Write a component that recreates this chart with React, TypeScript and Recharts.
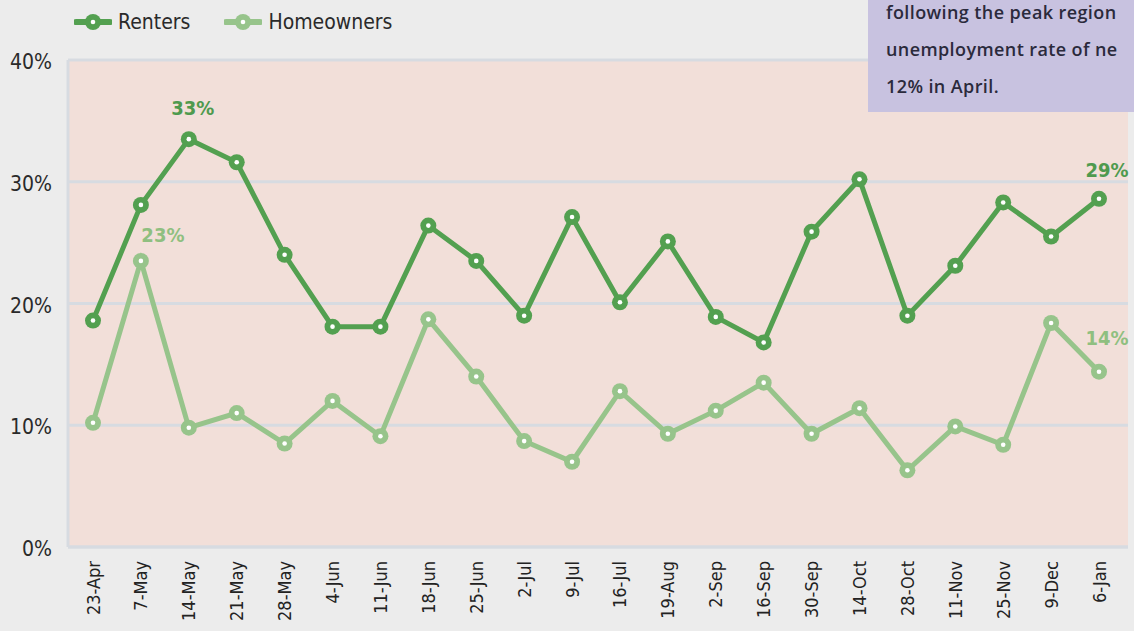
import React from "react";
import { LineChart, Line, XAxis, YAxis, CartesianGrid, LabelList } from "recharts";

const categories = ["23-Apr","7-May","14-May","21-May","28-May","4-Jun","11-Jun","18-Jun","25-Jun","2-Jul","9-Jul","16-Jul","19-Aug","2-Sep","16-Sep","30-Sep","14-Oct","28-Oct","11-Nov","25-Nov","9-Dec","6-Jan"];
const renters = [18.6,28.1,33.5,31.6,24.0,18.1,18.1,26.4,23.5,19.0,27.1,20.1,25.1,18.9,16.8,25.9,30.2,19.0,23.1,28.3,25.5,28.6];
const homeowners = [10.2,23.5,9.8,11.0,8.5,12.0,9.1,18.7,14.0,8.7,7.0,12.8,9.3,11.2,13.5,9.3,11.4,6.3,9.9,8.4,18.4,14.4];
const renterLabels = ["","","33%","","","","","","","","","","","","","","","","","","","29%"];
const homeownerLabels = ["","23%","","","","","","","","","","","","","","","","","","","","14%"];
const yTicks = [0,10,20,30,40];
const noteLines = ["following the peak region","unemployment rate of ne","12% in April."];

const RENT = "#53a050";
const HOME = "#97c48b";
const FONT = "'DejaVu Sans', sans-serif";
const COND: React.CSSProperties = { fontStretch: "condensed" };

const data = categories.map((c, i) => ({
  name: c,
  renters: renters[i],
  homeowners: homeowners[i],
  rl: renterLabels[i],
  hl: homeownerLabels[i],
}));

const lastIndex = categories.length - 1;

const makeDot = (color: string) => (props: any) => {
  const { cx, cy, index } = props;
  if (cx == null || cy == null) return <g key={index} />;
  return (
    <g key={index}>
      <circle cx={cx} cy={cy} r={8} fill={color} />
      <circle cx={cx} cy={cy} r={2.3} fill="#ffffff" />
    </g>
  );
};

const makeLabel = (color: string, dx: number, dy: number, lastDx: number, lastDy: number) => (props: any) => {
  const { x, y, value, index } = props;
  if (!value) return null;
  const isLast = index === lastIndex;
  return (
    <text x={x + (isLast ? lastDx : dx)} y={y + (isLast ? lastDy : dy)} fill={color} fontSize={20} fontWeight="bold" fontFamily={FONT} style={COND} textAnchor="middle">
      {value}
    </text>
  );
};

const XTick = (props: any) => {
  const { x, y, payload } = props;
  return (
    <text x={x} y={y} transform={`rotate(-90, ${x}, ${y})`} textAnchor="end" dominantBaseline="central" fontSize={18} fontFamily={FONT} style={COND} fill="#222">
      {payload.value}
    </text>
  );
};

const YTick = (props: any) => {
  const { x, y, payload } = props;
  return (
    <text x={x} y={y + 2} textAnchor="end" dominantBaseline="central" fontSize={21} fontFamily={FONT} style={COND} fill="#2a2a2a">
      {`${payload.value}%`}
    </text>
  );
};

const legendItems = [
  { name: "Renters", color: RENT },
  { name: "Homeowners", color: HOME },
];

export default function App() {
  return (
    <div style={{ position: "fixed", left: 0, top: 0, width: 1134, height: 631, background: "#ececec", overflow: "hidden" }}>
      <LineChart width={1134} height={631} data={data} margin={{ top: 60, right: 6, left: 8, bottom: 14 }}>
        <CartesianGrid vertical={false} stroke="#d7dbe1" strokeWidth={3} fill="#f2dfd9" fillOpacity={1} />
        <XAxis
          dataKey="name"
          scale="point"
          padding={{ left: 25, right: 29 }}
          interval={0}
          height={70}
          tickLine={false}
          axisLine={{ stroke: "#d7dbe1", strokeWidth: 3 }}
          tick={<XTick />}
          tickMargin={8}
        />
        <YAxis
          domain={[0, 40]}
          ticks={yTicks}
          width={60}
          tickLine={false}
          axisLine={{ stroke: "#d7dbe1", strokeWidth: 3 }}
          tick={<YTick />}
          tickMargin={10}
        />
        <Line type="linear" dataKey="homeowners" name="Homeowners" stroke={HOME} strokeWidth={5} dot={makeDot(HOME)} activeDot={false} isAnimationActive={false}>
          <LabelList dataKey="hl" content={makeLabel("#8fbf80", 22, -19, 8, -27)} />
        </Line>
        <Line type="linear" dataKey="renters" name="Renters" stroke={RENT} strokeWidth={5} dot={makeDot(RENT)} activeDot={false} isAnimationActive={false}>
          <LabelList dataKey="rl" content={makeLabel("#4f9a4e", 4, -24, 8, -22)} />
        </Line>
      </LineChart>
      <div style={{ position: "absolute", left: 74, top: 10, display: "flex", alignItems: "center", fontFamily: FONT, fontStretch: "condensed", fontSize: 21, color: "#2a2a2a" }}>
        {legendItems.map((it) => (
          <div key={it.name} style={{ display: "flex", alignItems: "center", marginRight: 34 }}>
            <svg width={38} height={20}>
              <line x1={2} y1={10} x2={36} y2={10} stroke={it.color} strokeWidth={6} strokeLinecap="round" />
              <circle cx={19} cy={10} r={8} fill={it.color} />
              <circle cx={19} cy={10} r={2.3} fill="#fff" />
            </svg>
            <span style={{ marginLeft: 6 }}>{it.name}</span>
          </div>
        ))}
      </div>
      <div style={{ position: "absolute", left: 868, top: 0, width: 266, height: 112, background: "#c8c2e0", overflow: "hidden" }}>
        <div style={{ position: "absolute", left: 18, top: -6, whiteSpace: "nowrap", fontFamily: "'Open Sans', sans-serif", fontWeight: 600, fontSize: 18, lineHeight: "37px", color: "#2b2a3c", letterSpacing: 0.4 }}>
          {noteLines.map((l, i) => (
            <div key={i}>{l}</div>
          ))}
        </div>
      </div>
    </div>
  );
}
